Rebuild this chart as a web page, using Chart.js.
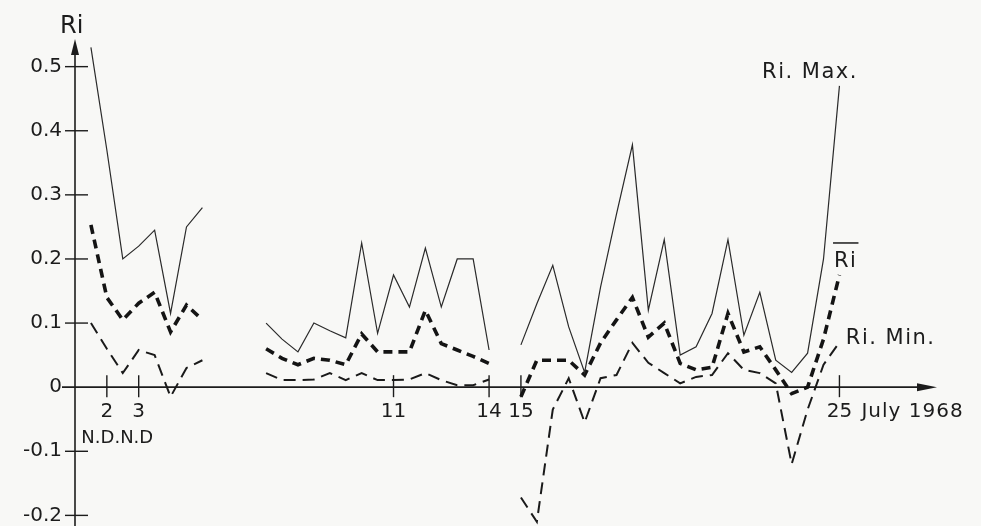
<!DOCTYPE html>
<html>
<head>
<meta charset="utf-8">
<script src="https://cdn.jsdelivr.net/npm/chart.js@4/dist/chart.umd.min.js"></script>
<style>
  html, body { margin: 0; padding: 0; background: #f8f8f6; }
  canvas { display: block; }
</style>
</head>
<body>
<canvas id="c" width="981" height="526"></canvas>
<script>
// Day of July 1968 (half-day steps: night / day); null rows break the lines
const days = [1.5, 2, 2.5, 3, 3.5, 4, 4.5, 5, 6,
  7, 7.5, 8, 8.5, 9, 9.5, 10, 10.5, 11, 11.5, 12, 12.5, 13, 13.5, 14, 14.5,
  15, 15.5, 16, 16.5, 17, 17.5, 18, 18.5, 19, 19.5, 20, 20.5, 21, 21.5, 22, 22.5, 23, 23.5, 24, 24.5, 25];

const riMax = [0.53, 0.37, 0.20, 0.22, 0.245, 0.115, 0.25, 0.28, null,
  0.10, 0.075, 0.055, 0.10, 0.088, 0.077, 0.225, 0.084, 0.175, 0.125, 0.217, 0.125, 0.20, 0.20, 0.058, null,
  0.066, 0.13, 0.19, 0.094, 0.023, 0.156, 0.27, 0.378, 0.12, 0.23, 0.05, 0.063, 0.115, 0.23, 0.081, 0.148, 0.042, 0.023, 0.053, 0.20, 0.47];

const riMean = [0.253, 0.14, 0.105, 0.131, 0.148, 0.086, 0.128, 0.105, null,
  0.06, 0.045, 0.035, 0.045, 0.042, 0.035, 0.083, 0.055, 0.055, 0.055, 0.12, 0.068, 0.058, 0.048, 0.037, null,
  -0.015, 0.042, 0.042, 0.042, 0.019, 0.069, 0.105, 0.14, 0.078, 0.10, 0.037, 0.027, 0.031, 0.115, 0.055, 0.063, 0.027, -0.01, 0.0, 0.075, 0.175];

const riMin = [0.10, 0.06, 0.022, 0.058, 0.05, -0.015, 0.03, 0.042, null,
  0.022, 0.011, 0.011, 0.012, 0.022, 0.011, 0.022, 0.011, 0.011, 0.012, 0.022, 0.011, 0.003, 0.003, 0.012, null,
  -0.172, -0.21, -0.035, 0.014, -0.055, 0.014, 0.019, 0.069, 0.038, 0.022, 0.006, 0.016, 0.019, 0.053, 0.027, 0.022, 0.006, -0.12, -0.035, 0.035, 0.07];

const xTickValues = [2, 3, 11, 14, 15, 25];
const xTickLabels = ['2', '3', '11', '14', '15', '25'];
const yTickValues = [-0.2, -0.1, 0, 0.1, 0.2, 0.3, 0.4, 0.5];
const yTickLabels = ['-0.2', '-0.1', '0', '0.1', '0.2', '0.3', '0.4', '0.5'];

const INK = '#1c1c1c';
const FONT = 'DejaVu Sans';

const toPoints = (vals) => days.map((d, i) => ({ x: d, y: vals[i] }));

const axesPlugin = {
  id: 'axesPlugin',
  beforeDatasetsDraw(chart) {
    const { ctx, chartArea } = chart;
    const xs = chart.scales.x, ys = chart.scales.y;
    const x0 = xs.getPixelForValue(1);
    const y0 = ys.getPixelForValue(0);
    ctx.save();
    ctx.strokeStyle = INK;
    ctx.fillStyle = INK;
    ctx.lineWidth = 1.6;
    // y axis line
    ctx.beginPath();
    ctx.moveTo(x0, chart.height);
    ctx.lineTo(x0, chartArea.top + 10);
    ctx.stroke();
    // y arrow head
    ctx.beginPath();
    ctx.moveTo(x0, chartArea.top - 2);
    ctx.lineTo(x0 - 4, chartArea.top + 14);
    ctx.lineTo(x0 + 4, chartArea.top + 14);
    ctx.closePath();
    ctx.fill();
    // x axis line
    const xEnd = chartArea.right;
    ctx.beginPath();
    ctx.moveTo(x0 - 13, y0);
    ctx.lineTo(xEnd - 10, y0);
    ctx.stroke();
    ctx.beginPath();
    ctx.moveTo(xEnd + 2, y0);
    ctx.lineTo(xEnd - 18, y0 - 4);
    ctx.lineTo(xEnd - 18, y0 + 4);
    ctx.closePath();
    ctx.fill();
    // y ticks crossing axis
    ctx.lineWidth = 1.4;
    yTickValues.forEach(v => {
      if (v === 0) return;
      const py = ys.getPixelForValue(v);
      ctx.beginPath();
      ctx.moveTo(x0 - 10, py);
      ctx.lineTo(x0 + 13, py);
      ctx.stroke();
    });
    // x ticks crossing axis + their labels
    ctx.font = '20px "' + FONT + '"';
    ctx.textAlign = 'center';
    ctx.textBaseline = 'alphabetic';
    xTickValues.forEach((v, i) => {
      const px = xs.getPixelForValue(v);
      ctx.beginPath();
      ctx.moveTo(px, y0 - 12);
      ctx.lineTo(px, y0 + 10);
      ctx.stroke();
      ctx.fillText(xTickLabels[i], px, y0 + 30);
    });
    ctx.restore();
  },
  afterDraw(chart) {
    const { ctx, chartArea } = chart;
    const xs = chart.scales.x, ys = chart.scales.y;
    ctx.save();
    ctx.fillStyle = INK;
    ctx.strokeStyle = INK;
    ctx.textBaseline = 'alphabetic';
    ctx.textAlign = 'left';
    // y-axis name
    ctx.font = '24px "' + FONT + '"';
    ctx.fillText('Ri', chartArea.left - 15, chartArea.top - 8);
    // date suffix
    ctx.font = '20px "' + FONT + '"';
    ctx.letterSpacing = '1px';
    const y0 = ys.getPixelForValue(0);
    ctx.fillText('July 1968', xs.getPixelForValue(25) + 22, y0 + 30);
    // N.D.N.D
    ctx.letterSpacing = '0px';
    ctx.font = '18px "' + FONT + '"';
    ctx.fillText('N.D.N.D', xs.getPixelForValue(1.2), y0 + 56);
    // series labels
    ctx.font = '21px "' + FONT + '"';
    ctx.letterSpacing = '1.5px';
    ctx.fillText('Ri. Max.', xs.getPixelForValue(22.57), ys.getPixelForValue(0.483));
    ctx.fillText('Ri. Min.', xs.getPixelForValue(25.2), ys.getPixelForValue(0.067));
    const rx = xs.getPixelForValue(24.83), ry = ys.getPixelForValue(0.1875);
    ctx.fillText('Ri', rx, ry);
    const w = ctx.measureText('Ri').width;
    ctx.lineWidth = 1.5;
    ctx.beginPath();
    ctx.moveTo(rx - 1, ry - 24);
    ctx.lineTo(rx + w + 1, ry - 24);
    ctx.stroke();
    ctx.restore();
  }
};

new Chart(document.getElementById('c'), {
  type: 'line',
  data: {
    datasets: [
      {
        label: 'Ri. Max.',
        data: toPoints(riMax),
        borderColor: '#2a2a2a',
        borderWidth: 1.2,
        pointRadius: 0,
        tension: 0,
        spanGaps: false
      },
      {
        label: 'Ri (mean)',
        data: toPoints(riMean),
        borderColor: '#141414',
        borderWidth: 3.6,
        borderDash: [9, 6],
        pointRadius: 0,
        tension: 0,
        spanGaps: false
      },
      {
        label: 'Ri. Min.',
        data: toPoints(riMin),
        borderColor: '#1a1a1a',
        borderWidth: 2,
        borderDash: [12, 7],
        pointRadius: 0,
        tension: 0,
        spanGaps: false
      }
    ]
  },
  options: {
    responsive: false,
    devicePixelRatio: 1,
    animation: false,
    layout: { padding: { left: 0, right: 46, top: 41, bottom: 1 } },
    plugins: { legend: { display: false }, tooltip: { enabled: false }, title: { display: false } },
    scales: {
      x: {
        type: 'linear',
        min: 1,
        max: 28,
        display: false
      },
      y: {
        type: 'linear',
        min: -0.215,
        max: 0.54,
        position: 'left',
        grid: { display: false, drawTicks: false },
        border: { display: false },
        afterFit: (scale) => { scale.width = 75; scale.paddingTop = 0; scale.paddingBottom = 0; },
        afterBuildTicks: (scale) => { scale.ticks = yTickValues.map(v => ({ value: v })); },
        ticks: {
          autoSkip: false,
          padding: 13,
          color: INK,
          font: { family: FONT, size: 20 },
          callback: (v) => { const i = yTickValues.findIndex(t => Math.abs(t - v) < 1e-9); return i >= 0 ? yTickLabels[i] : ''; }
        }
      }
    }
  },
  plugins: [axesPlugin]
});
</script>
</body>
</html>
